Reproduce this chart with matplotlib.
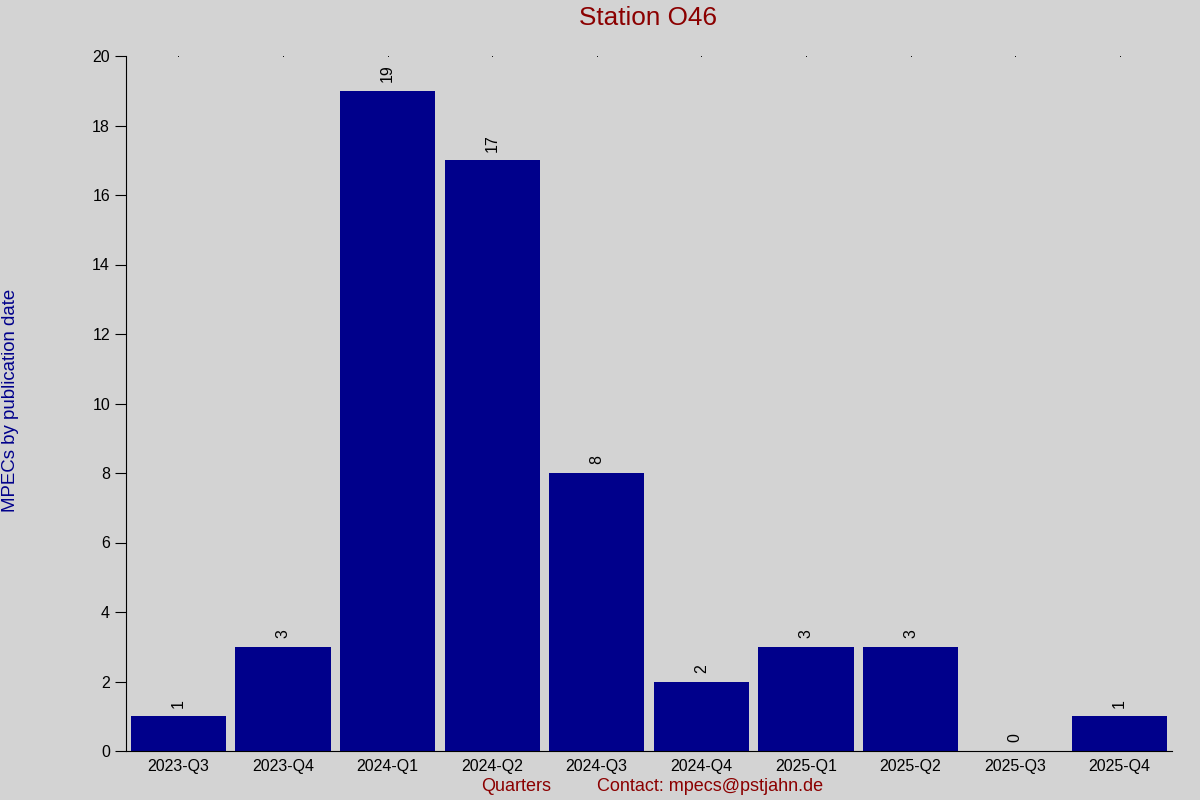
import numpy as np
import matplotlib
matplotlib.use("Agg")
import matplotlib.pyplot as plt

plt.rcParams['font.family'] = ['Liberation Sans', 'DejaVu Sans']

quarters = ["2023-Q3", "2023-Q4", "2024-Q1", "2024-Q2", "2024-Q3",
            "2024-Q4", "2025-Q1", "2025-Q2", "2025-Q3", "2025-Q4"]
counts = [1, 3, 19, 17, 8, 2, 3, 3, 0, 1]

bg = '#d3d3d3'
bar_col = '#00008b'
red = '#8b0000'

fig = plt.figure(figsize=(12, 8), dpi=100, facecolor=bg)
ax = fig.add_axes([0.105, 0.06125, 0.8717, 0.86875], facecolor=bg)

x = np.arange(len(quarters))
ax.bar(x, counts, width=0.91, color=bar_col)

for xi, c in zip(x, counts):
    ax.text(xi, c + 0.25, str(c), rotation=90, ha='center', va='bottom',
            fontsize=11.5, color='black')

ax.set_xlim(-0.5, len(quarters) - 0.5)
ax.set_ylim(0, 20)
ax.set_yticks(np.arange(0, 21, 2))
ax.set_xticks(x)
ax.set_xticklabels(quarters, fontsize=11.5)
ax.tick_params(axis='y', labelsize=11.5, length=8, direction='out')
ax.tick_params(axis='x', length=0, pad=6)

for s in ['top', 'right']:
    ax.spines[s].set_visible(False)

# tiny dots along the top at each category
ax.plot(x, np.full(len(x), 20), linestyle='none', marker='s',
        markersize=0.6, markeredgewidth=0, color='black', clip_on=False)

fig.text(0.54, 0.977, "Station O46", ha='center', va='center',
         fontsize=18.8, color=red)
fig.text(0.009, 0.5, "MPECs by publication date", rotation=90,
         ha='center', va='center', fontsize=13.4, color=bar_col)
fig.text(0.43, 0.017, "Quarters", ha='center', va='center',
         fontsize=13, color=red)
fig.text(0.5917, 0.017, "Contact: mpecs@pstjahn.de", ha='center', va='center',
         fontsize=13, color=red)

fig.savefig("out.png", dpi=100, facecolor=bg)
